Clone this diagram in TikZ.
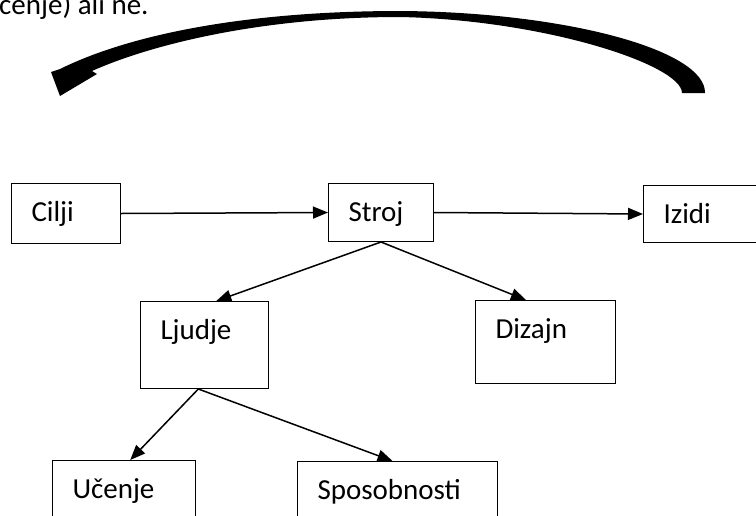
\documentclass[tikz,border=0pt]{standalone}
\usepackage{fontspec}
\setmainfont{Carlito}
\usetikzlibrary{arrows.meta}

\begin{document}
\begin{tikzpicture}[x=1pt, y=-1pt,
    okvir/.style={draw, line width=1pt, anchor=north west, align=left,
                  inner xsep=20pt, inner ysep=0pt, text height=38pt,
                  font=\fontsize{29}{35}\selectfont},
    puscica/.style={line width=1.5pt, -{Triangle[length=15pt, width=12pt]}}]
    \useasboundingbox (0,0) rectangle (756,515);
    \clip (0,0) rectangle (756,515);
    \node[anchor=base west, inner sep=0pt, font=\fontsize{29}{35}\selectfont] (opomba) at (-1,14) {čenje) ali ne.};
    \fill (705,93) .. controls (706,50) and (565,12) .. (400,11)
                   .. controls (255,11) and (135,32) .. (60,69)
                   -- (51,72) -- (60,96) -- (97,74) -- (92,71)
                   .. controls (150,45) and (260,17) .. (400,17)
                   .. controls (545,20) and (682,65) .. (682,93) -- cycle;
    \node[okvir, text width=69pt,  text depth=22pt] (cilji) at (11,183) {Cilji};
    \node[okvir, text width=65pt,  text depth=20pt] (stroj) at (328,183) {Stroj};
    \node[okvir, text width=85pt,  text depth=19pt] (izidi) at (643,185) {Izidi};
    \node[okvir, text width=88pt,  text depth=49pt] (ljudje) at (140,301) {Ljudje};
    \node[okvir, text width=100pt, text depth=45pt] (dizajn) at (475,300) {Dizajn};
    \node[okvir, text width=103pt, text depth=32pt] (ucenje) at (52,460) {Učenje};
    \node[okvir, text width=160pt, text depth=32pt] (sposobnosti) at (297,461) {Sposobnosti};
    \draw[puscica] (cilji.east) -- (stroj.west);
    \draw[puscica] (stroj.east) -- (izidi.west);
    \draw[puscica] (stroj.south) -- (ljudje.75);
    \draw[puscica] (stroj.south) -- (dizajn.115);
    \draw[puscica] (ljudje.262) -- (ucenje.80);
    \draw[puscica] (ljudje.262) -- (sposobnosti.98);
\end{tikzpicture}
\end{document}
